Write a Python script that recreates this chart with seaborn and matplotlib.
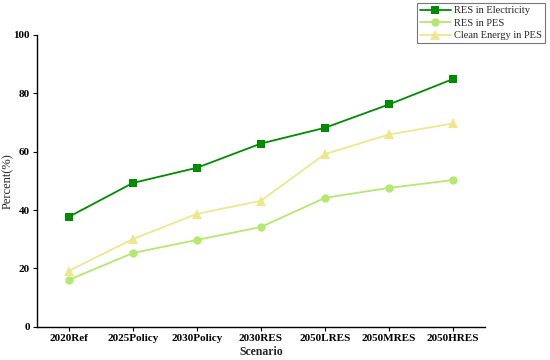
import matplotlib
matplotlib.use("Agg")
import matplotlib.pyplot as plt
import seaborn as sns
import pandas as pd

scenarios = ["2020Ref", "2025Policy", "2030Policy", "2030RES", "2050LRES", "2050MRES", "2050HRES"]
res_electricity = [37.7, 49.3, 54.5, 62.8, 68.2, 76.2, 84.9]
res_pes = [16.1, 25.3, 29.8, 34.2, 44.2, 47.6, 50.3]
clean_pes = [19.2, 30.1, 38.7, 43.2, 59.2, 65.9, 69.7]
series_names = ["RES in Electricity", "RES in PES", "Clean Energy in PES"]
y_ticks = [0, 20, 40, 60, 80, 100]

sns.set_theme(style="ticks")
plt.rcParams['font.family'] = ['Liberation Serif', 'DejaVu Serif']

rows = []
for name, vals in zip(series_names, [res_electricity, res_pes, clean_pes]):
    for i, (s, v) in enumerate(zip(scenarios, vals)):
        rows.append({"Scenario": s, "idx": i, "Percent": v, "Series": name})
df = pd.DataFrame(rows)

fig = plt.figure(figsize=(5.5, 3.6), dpi=100)
ax = fig.add_axes([0.067, 0.092, 0.815, 0.811])

colors = {"RES in Electricity": "#008C00", "RES in PES": "#B5E86E", "Clean Energy in PES": "#F0E68C"}
markers = {"RES in Electricity": "s", "RES in PES": "o", "Clean Energy in PES": "^"}
msizes = {"RES in Electricity": 5.5, "RES in PES": 6, "Clean Energy in PES": 6.5}
for name in series_names:
    sub = df[df["Series"] == name]
    sns.lineplot(data=sub, x="idx", y="Percent", ax=ax, color=colors[name],
                 marker=markers[name], markersize=msizes[name], markeredgewidth=0,
                 linewidth=1.3, label=name)

ax.set_xlim(-0.5, 6.5)
ax.set_ylim(0, 100)
ax.set_xticks(range(len(scenarios)))
ax.set_xticklabels(scenarios, fontsize=8, fontweight="bold")
ax.set_yticks(y_ticks)
ax.set_yticklabels([str(t) for t in y_ticks], fontsize=8, fontweight="bold")
ax.tick_params(axis="both", length=3, width=0.8, pad=2, colors="black")
for s in ["top", "right"]:
    ax.spines[s].set_visible(False)
for s in ["left", "bottom"]:
    ax.spines[s].set_color("black")
    ax.spines[s].set_linewidth(1.0)
ax.set_xlabel("Scenario", fontsize=8.5, fontweight="bold")
ax.set_ylabel("Percent(%)", fontsize=9)
ax.yaxis.set_label_coords(-0.052, 0.5)
ax.xaxis.set_label_coords(0.5, -0.066)

leg = ax.legend(loc="upper right", bbox_to_anchor=(545 / 550, 1 - 3 / 360),
                bbox_transform=fig.transFigure, fontsize=7.5,
                frameon=True, fancybox=False, edgecolor="#555555",
                handlelength=3.0, borderpad=0.3, labelspacing=0.3, handletextpad=0.3,
                borderaxespad=0)
leg.get_frame().set_linewidth(0.8)

fig.savefig("out.png", dpi=100)
